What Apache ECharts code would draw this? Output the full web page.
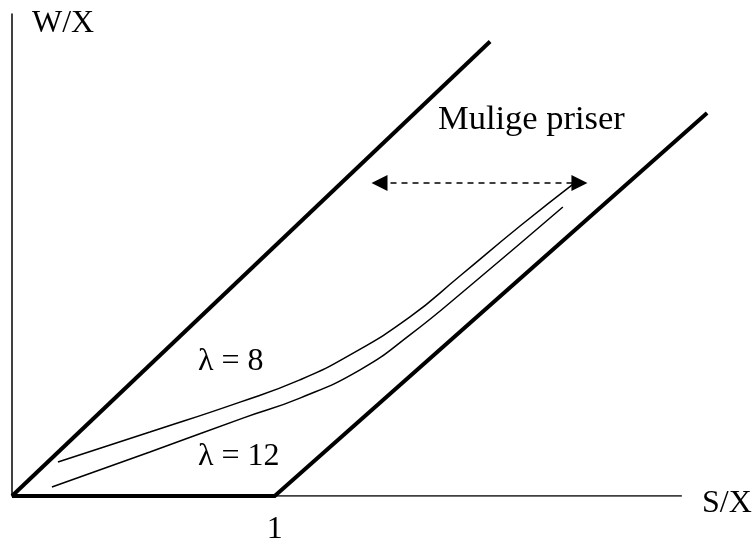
<!DOCTYPE html>
<html>
<head>
<meta charset="utf-8">
<script src="https://cdn.jsdelivr.net/npm/echarts@6/dist/echarts.min.js"></script>
<style>
  html, body { margin: 0; padding: 0; background: #fff; }
  #chart { width: 753px; height: 539px; }
</style>
</head>
<body>
<div id="chart"></div>
<script>
// Option value diagram: W/X against S/X, with the bounds and two price curves
const xAxisSpan = [[0, 0], [2.55, 0]];                  // drawn S/X axis
const upperBound = [[0, 0], [1.82, 1.82]];              // W = S
const lowerBound = [[0, 0], [1, 0], [2.646, 1.534]];     // W = max(S - 1, 0)
const curveLambda8 = [
  [0.175, 0.136], [0.525, 0.256], [0.868, 0.376], [1.096, 0.465], [1.287, 0.565],
  [1.515, 0.717], [1.705, 0.881], [1.934, 1.081], [2.147, 1.258]
];
const curveLambda12 = [
  [0.152, 0.036], [0.525, 0.176], [0.879, 0.312], [1.096, 0.392], [1.325, 0.505],
  [1.515, 0.645], [1.743, 0.841], [2.097, 1.157]
];
const priceRange = [[1.399, 1.2535], [2.160, 1.2535]];
const xTickLabels = { 1: '1' };

const FONT = '"Liberation Serif", "Times New Roman", serif';
const textStyle = (x, y, text, size) => ({
  type: 'text', x: x, y: y,
  style: { text: text, font: (size || 32) + 'px ' + FONT, fill: '#000', textAlign: 'left', textVerticalAlign: 'middle' }
});

const chart = echarts.init(document.getElementById('chart'), null, { renderer: 'canvas' });
chart.setOption({
  animation: false,
  backgroundColor: '#fff',
  grid: { left: 12, right: 18.6, top: 14, bottom: 43, containLabel: false, outerBoundsMode: 'none' },
  xAxis: {
    type: 'value', min: 0, max: 2.75, interval: 1,
    axisLine: { show: false },
    axisTick: { show: false },
    splitLine: { show: false },
    axisLabel: {
      margin: 18, color: '#000', fontFamily: FONT, fontSize: 32,
      formatter: v => xTickLabels[v] || ''
    }
  },
  yAxis: {
    type: 'value', min: 0, max: 1.93,
    axisLine: { show: true, lineStyle: { color: '#000', width: 1.5 } },
    axisTick: { show: false },
    splitLine: { show: false },
    axisLabel: { show: false }
  },
  series: [
    {
      type: 'line', data: xAxisSpan, symbol: 'none',
      lineStyle: { color: '#000', width: 1.5 }, z: 2
    },
    {
      type: 'line', data: upperBound, symbol: 'none',
      lineStyle: { color: '#000', width: 4 }, z: 3
    },
    {
      type: 'line', data: lowerBound, symbol: 'none',
      lineStyle: { color: '#000', width: 4, join: 'miter' }, z: 3
    },
    {
      type: 'line', data: curveLambda8, symbol: 'none', smooth: 0.5,
      lineStyle: { color: '#000', width: 1.5 }
    },
    {
      type: 'line', data: curveLambda12, symbol: 'none', smooth: 0.5,
      lineStyle: { color: '#000', width: 1.5 },
      markLine: {
        silent: true,
        symbol: ['triangle', 'triangle'],
        symbolSize: [16, 16],
        label: { show: false },
        lineStyle: { color: '#000', width: 1.5, type: [6, 5] },
        data: [[{ coord: priceRange[0] }, { coord: priceRange[1] }]]
      }
    }
  ],
  graphic: [
    textStyle(32, 24, 'W/X'),
    textStyle(438, 120, 'Mulige priser', 34.5),
    textStyle(198, 362, 'λ = 8'),
    textStyle(198, 457, 'λ = 12'),
    textStyle(702, 504, 'S/X')
  ]
});
</script>
</body>
</html>
